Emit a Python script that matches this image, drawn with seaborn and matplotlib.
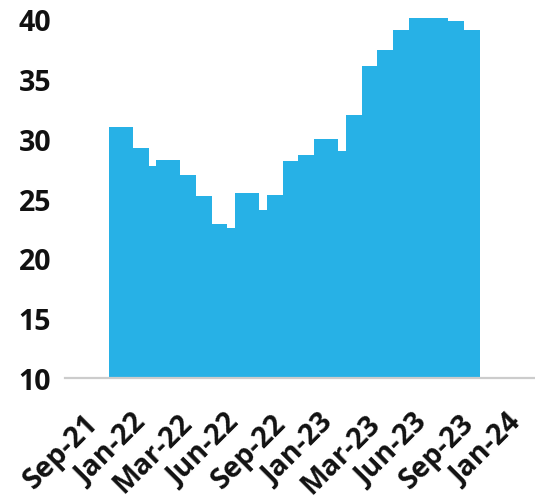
import numpy as np
import pandas as pd
import matplotlib
matplotlib.use("Agg")
import matplotlib.pyplot as plt
import seaborn as sns

# Step series: each level holds for a number of periods
durations = [3, 2, 1, 3, 2, 2, 2, 1, 3, 1, 2, 2, 2, 3, 1, 2, 2, 2, 2, 5, 2, 2]
levels = [31.0, 29.2, 27.7, 28.25, 27.0, 25.2, 22.9, 22.55, 25.5, 24.05, 25.3,
          28.1, 28.6, 30.0, 29.0, 32.0, 36.1, 37.4, 39.1, 40.1, 39.8, 39.1]
tick_labels = ["Sep-21", "Jan-22", "Mar-22", "Jun-22", "Sep-22",
               "Jan-23", "Mar-23", "Jun-23", "Sep-23", "Jan-24"]
y_ticks = [10, 15, 20, 25, 30, 35, 40]

edges = [0.0] + [float(v) for v in np.cumsum(durations)]
df = pd.DataFrame({
    "period": [(a + b) / 2 for a, b in zip(edges[:-1], edges[1:])],
    "level": levels,
})

sns.set_theme(style="white")
plt.rcParams["font.family"] = ["Open Sans", "DejaVu Sans"]

fig = plt.figure(figsize=(5.35, 5.02), dpi=100)
ax = fig.add_axes([65 / 535, 0.245, 1 - 65 / 535, 0.739])

sns.histplot(data=df, x="period", weights="level", bins=edges,
             element="step", fill=True, color="#27B1E6", alpha=1.0,
             linewidth=0, ax=ax)

x_lo, x_hi = -5.6, 54.0
ax.set_xlim(x_lo, x_hi)
ax.set_ylim(10, 41)

span = (x_hi - x_lo) / len(tick_labels)
ax.set_xticks([x_lo + (k + 0.62) * span for k in range(len(tick_labels))])
ax.set_xticklabels(tick_labels, rotation=45, ha="right", va="center",
                   rotation_mode="anchor", fontsize=20.5, fontweight="bold",
                   color="#111111")
ax.set_yticks(y_ticks)
ax.set_yticklabels([str(v) for v in y_ticks], fontsize=20.5,
                   fontweight="bold", color="#111111")
ax.tick_params(axis="x", length=0, pad=29)
ax.tick_params(axis="y", length=0, pad=10)

ax.set_xlabel("")
ax.set_ylabel("")
for side in ["left", "right", "top"]:
    ax.spines[side].set_visible(False)
ax.spines["bottom"].set_color("#CCCCCC")
ax.spines["bottom"].set_linewidth(1.6)
ax.grid(False)

fig.savefig("out.png", dpi=100)
